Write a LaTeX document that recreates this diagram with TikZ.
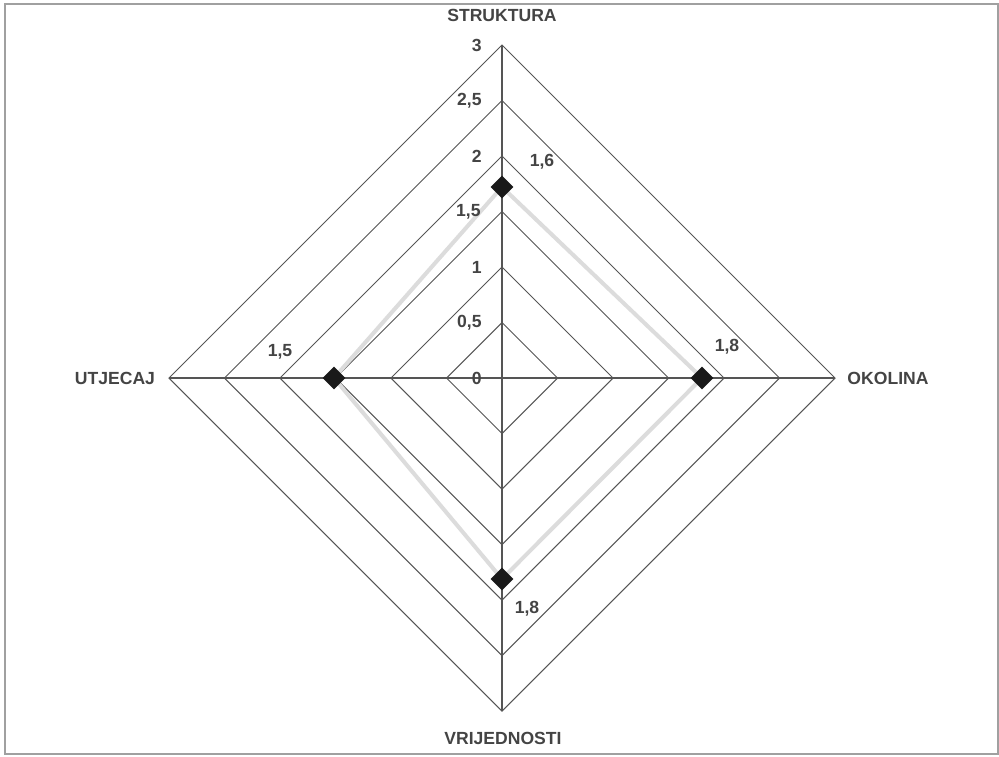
\documentclass[tikz,border=0pt]{standalone}
\usepackage{fontspec}
\setmainfont{Liberation Sans}
\usetikzlibrary{shapes.geometric}
\definecolor{txtgray}{HTML}{444444}
\definecolor{gridgray}{HTML}{555555}
\definecolor{linegray}{HTML}{DCDCDC}
\definecolor{framegray}{HTML}{A0A0A0}
\tikzset{
  grid/.style={draw=gridgray, line width=0.6pt},
  dataline/.style={draw=linegray, line width=0.08cm},
  marker/.style={diamond, fill=black!90, inner sep=0pt, minimum width=0.46cm, minimum height=0.46cm},
  lbl/.style={text=txtgray, font=\fontsize{10}{12}\selectfont\bfseries, inner sep=0pt}
}
\begin{document}
\begin{tikzpicture}
\useasboundingbox (-10.04,-7.56) rectangle (9.94,7.56);
\draw [framegray, line width=1.2pt] (-9.94,-7.52) rectangle (9.92,7.48);
%-------------- rings --------------------
\draw [grid] (0,1.11) -- (1.11,0) -- (0,-1.11) -- (-1.11,0) -- cycle;
\draw [grid] (0,2.22) -- (2.22,0) -- (0,-2.22) -- (-2.22,0) -- cycle;
\draw [grid] (0,3.33) -- (3.33,0) -- (0,-3.33) -- (-3.33,0) -- cycle;
\draw [grid] (0,4.44) -- (4.44,0) -- (0,-4.44) -- (-4.44,0) -- cycle;
\draw [grid] (0,5.55) -- (5.55,0) -- (0,-5.55) -- (-5.55,0) -- cycle;
\draw [grid] (0,6.66) -- (6.66,0) -- (0,-6.66) -- (-6.66,0) -- cycle;

\draw [grid] (-6.66,0) -- (6.66,0);
\draw [grid] (0,6.66) -- (0,-6.66);
%-------------- data ---------------------
\coordinate (S) at (0,3.82);
\coordinate (O) at (4.0,0);
\coordinate (V) at (0,-4.02);
\coordinate (U) at (-3.36,0);

\draw [dataline] (S) -- (O) -- (V) -- (U) -- cycle;

\node [marker] (Sm) at (S) {};
\node [marker] (Om) at (O) {};
\node [marker] (Vm) at (V) {};
\node [marker] (Um) at (U) {};

\node [lbl] (Sv) at (0.80,4.32) {1,6};
\node [lbl] (Ov) at (4.50,0.62) {1,8};
\node [lbl] (Vv) at (0.50,-4.62) {1,8};
\node [lbl] (Uv) at (-4.44,0.52) {1,5};
%-------------- scale --------------------
\node [lbl, anchor=east] (s0) at (-0.4,0) {0};
\node [lbl, anchor=east] (s1) at (-0.4,1.11) {0,5};
\node [lbl, anchor=east] (s2) at (-0.4,2.22) {1};
\node [lbl, anchor=east] (s3) at (-0.42,3.33) {1,5};
\node [lbl, anchor=east] (s4) at (-0.4,4.44) {2};
\node [lbl, anchor=east] (s5) at (-0.4,5.55) {2,5};
\node [lbl, anchor=east] (s6) at (-0.4,6.66) {3};
%-------------- axes ---------------------
\node [lbl] (struktura) at (0,7.26) {STRUKTURA};
\node [lbl] (okolina) at (7.72,0) {OKOLINA};
\node [lbl] (vrijednosti) at (0.02,-7.2) {VRIJEDNOSTI};
\node [lbl] (utjecaj) at (-7.74,0) {UTJECAJ};
\end{tikzpicture}
\end{document}
